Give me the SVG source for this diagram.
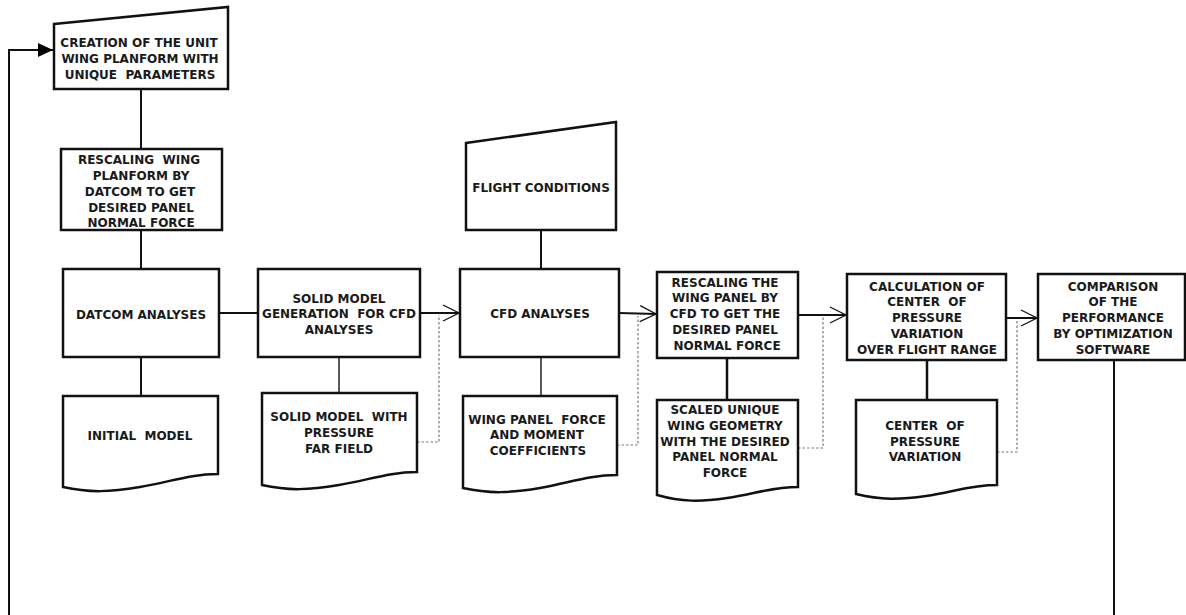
<svg xmlns="http://www.w3.org/2000/svg" width="1186" height="615" viewBox="0 0 1186 615">
<style>
.box{fill:#fff;stroke:#111;stroke-width:2.5}
.t{font-family:"DejaVu Sans",Verdana,sans-serif;font-weight:bold;font-size:12px;fill:#1a1a1a;text-anchor:middle;white-space:pre}
.c{fill:none;stroke:#111;stroke-width:2}
.thin{fill:none;stroke:#222;stroke-width:1.5}
.dot{fill:none;stroke:#777;stroke-width:1.2;stroke-dasharray:2.5,2}
</style>
<defs>
<marker id="open" markerUnits="userSpaceOnUse" markerWidth="20" markerHeight="20" refX="17" refY="9" orient="auto">
<path d="M1,1 L17,9 L1,17" fill="none" stroke="#111" stroke-width="1.3"/>
</marker>
<marker id="fill" markerUnits="userSpaceOnUse" markerWidth="18" markerHeight="18" refX="15" refY="8" orient="auto">
<path d="M0,1 L15,8 L0,15 Z" fill="#000"/>
</marker>
</defs>
<rect width="1186" height="615" fill="#fff"/>

<g id="connectors">
<polyline class="c" points="9,615 9,50 53,50" marker-end="url(#fill)"/>
<line class="c" x1="141" y1="89" x2="141" y2="149"/>
<line class="c" x1="141" y1="230" x2="141" y2="269"/>
<line class="c" x1="141" y1="357" x2="141" y2="396"/>
<line class="c" x1="219" y1="313" x2="258" y2="313"/>
<line class="thin" x1="339" y1="357" x2="339" y2="393"/>
<line class="c" x1="420" y1="313" x2="459" y2="313" marker-end="url(#open)"/>
<polyline class="dot" points="417,442 439,442 439,315"/>
<line class="c" x1="541" y1="230" x2="541" y2="269"/>
<line class="thin" x1="541" y1="357" x2="541" y2="396"/>
<line class="c" x1="619" y1="313" x2="656" y2="314" marker-end="url(#open)"/>
<polyline class="dot" points="617,445 638,445 638,316"/>
<line class="c" x1="727" y1="358" x2="727" y2="400" style="stroke-width:2.5"/>
<line class="c" x1="798" y1="315" x2="846" y2="315" marker-end="url(#open)"/>
<polyline class="dot" points="798,448 823,448 823,317"/>
<line class="c" x1="927" y1="360" x2="927" y2="400" style="stroke-width:2.5"/>
<line class="c" x1="1006" y1="318" x2="1037" y2="318" marker-end="url(#open)"/>
<polyline class="dot" points="997,452 1017,452 1017,320"/>
<line class="c" x1="1114" y1="360" x2="1114" y2="615"/>
</g>

<g id="creation">
<polygon class="box" points="54,24 228,7 228,89 54,89"/>
<text class="t" x="139" y="47">CREATION OF THE UNIT</text>
<text class="t" x="140" y="63">WING PLANFORM WITH</text>
<text class="t" x="140" y="79">UNIQUE  PARAMETERS</text>
</g>

<g id="rescale1">
<rect class="box" x="61" y="149" width="161" height="81"/>
<text class="t" x="139" y="164">RESCALING  WING</text>
<text class="t" x="141" y="180">PLANFORM BY</text>
<text class="t" x="140" y="196">DATCOM TO GET</text>
<text class="t" x="141" y="212">DESIRED PANEL</text>
<text class="t" x="141" y="227">NORMAL FORCE</text>
</g>

<g id="datcom">
<rect class="box" x="63" y="269" width="156" height="88"/>
<text class="t" x="141" y="319">DATCOM ANALYSES</text>
</g>

<g id="initial">
<path class="box" d="M63,396 H218 V474 C190,474 170,482 140,487 C110,492 90,493 63,487 Z"/>
<text class="t" x="140" y="440">INITIAL  MODEL</text>
</g>

<g id="solidgen">
<rect class="box" x="258" y="269" width="162" height="88"/>
<text class="t" x="339" y="303">SOLID MODEL</text>
<text class="t" x="339" y="318">GENERATION  FOR CFD</text>
<text class="t" x="339" y="334">ANALYSES</text>
</g>

<g id="soliddoc">
<path class="box" d="M262,393 H417 V472 C389,472 369,480 339,485 C309,490 289,491 262,485 Z"/>
<text class="t" x="339" y="421">SOLID MODEL  WITH</text>
<text class="t" x="339" y="437">PRESSURE</text>
<text class="t" x="339" y="453">FAR FIELD</text>
</g>

<g id="flight">
<polygon class="box" points="466,143 616,122 616,230 466,230"/>
<text class="t" x="541" y="192">FLIGHT CONDITIONS</text>
</g>

<g id="cfd">
<rect class="box" x="460" y="269" width="159" height="88"/>
<text class="t" x="540" y="318">CFD ANALYSES</text>
</g>

<g id="wingdoc">
<path class="box" d="M463,396 H617 V475 C589,475 569,483 540,488 C510,493 490,494 463,488 Z"/>
<text class="t" x="537" y="424">WING PANEL  FORCE</text>
<text class="t" x="537" y="439">AND MOMENT</text>
<text class="t" x="538" y="455">COEFFICIENTS</text>
</g>

<g id="rescale2">
<rect class="box" x="657" y="272" width="141" height="86"/>
<text class="t" x="725" y="287">RESCALING THE</text>
<text class="t" x="725" y="302">WING PANEL BY</text>
<text class="t" x="725" y="318">CFD TO GET THE</text>
<text class="t" x="725" y="334">DESIRED PANEL</text>
<text class="t" x="727" y="350">NORMAL FORCE</text>
</g>

<g id="scaleddoc">
<path class="box" d="M657,400 H798 V487 C772,487 754,494 727,498 C700,502 682,502 657,495 Z"/>
<text class="t" x="725" y="414">SCALED UNIQUE</text>
<text class="t" x="725" y="430">WING GEOMETRY</text>
<text class="t" x="725" y="446">WITH THE DESIRED</text>
<text class="t" x="725" y="461">PANEL NORMAL</text>
<text class="t" x="725" y="477">FORCE</text>
</g>

<g id="calc">
<rect class="box" x="847" y="274" width="159" height="86"/>
<text class="t" x="927" y="291">CALCULATION OF</text>
<text class="t" x="927" y="306">CENTER  OF</text>
<text class="t" x="927" y="322">PRESSURE</text>
<text class="t" x="927" y="338">VARIATION</text>
<text class="t" x="927" y="354">OVER FLIGHT RANGE</text>
</g>

<g id="centerdoc">
<path class="box" d="M856,400 H997 V485 C971,485 953,492 926,496 C899,500 881,500 856,494 Z"/>
<text class="t" x="925" y="430">CENTER  OF</text>
<text class="t" x="925" y="446">PRESSURE</text>
<text class="t" x="925" y="461">VARIATION</text>
</g>

<g id="comparison">
<rect class="box" x="1038" y="274" width="147" height="86"/>
<text class="t" x="1113" y="291">COMPARISON</text>
<text class="t" x="1113" y="306">OF THE</text>
<text class="t" x="1113" y="322">PERFORMANCE</text>
<text class="t" x="1113" y="338">BY OPTIMIZATION</text>
<text class="t" x="1113" y="354">SOFTWARE</text>
</g>
</svg>
